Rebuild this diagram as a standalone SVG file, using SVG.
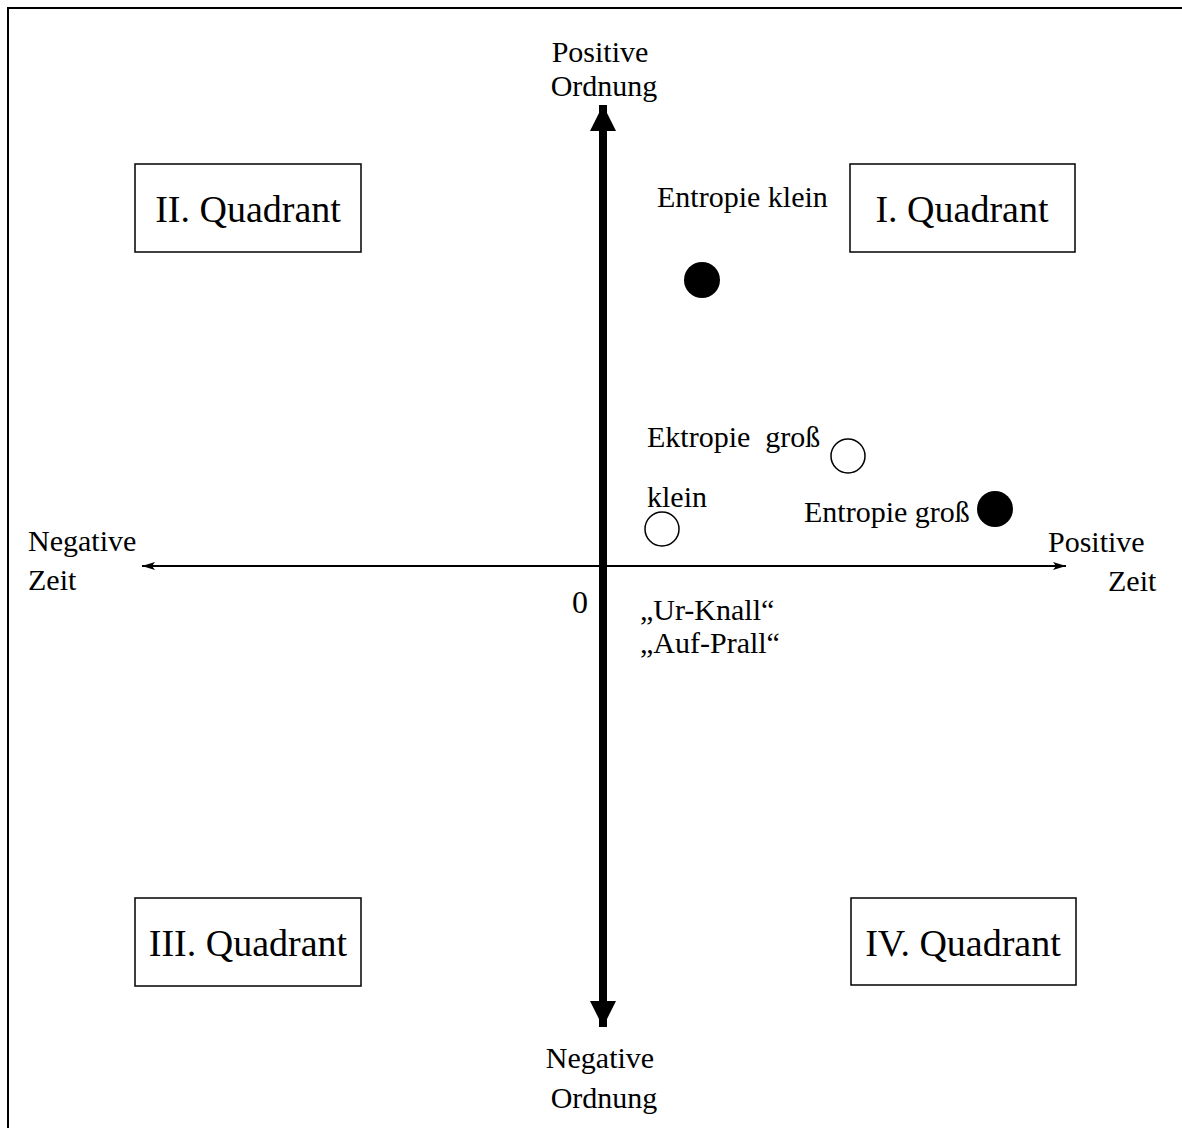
<svg xmlns="http://www.w3.org/2000/svg" width="1182" height="1128" viewBox="0 0 1182 1128">
<style>
text{font-family:"Liberation Serif","Times New Roman",serif;fill:#000}
.lbl{font-size:30px}
.q{font-size:38px;text-anchor:middle}
.box{fill:#fff;stroke:#000;stroke-width:1.5}
.dot{fill:#000}
.ring{fill:#fff;stroke:#000;stroke-width:1.5}
</style>
<defs>
<marker id="bigHead" markerUnits="userSpaceOnUse" markerWidth="28" markerHeight="26" refX="26" refY="13" orient="auto">
<path d="M0,0 L26,13 L0,26 Z" fill="#000"/>
</marker>
<marker id="smallHead" markerUnits="userSpaceOnUse" markerWidth="14" markerHeight="10" refX="13" refY="5" orient="auto">
<path d="M0,1 L13,5 L0,9 L3,5 Z" fill="#000"/>
</marker>
</defs>
<rect width="1182" height="1128" fill="#fff"/>
<g id="frame">
<path d="M8,1128 L8,8 L1182,8" fill="none" stroke="#000" stroke-width="2"/>
</g>
<g id="connectors">
<line x1="603" y1="565" x2="603" y2="105" stroke="#000" stroke-width="8" marker-end="url(#bigHead)"/>
<line x1="603" y1="565" x2="603" y2="1027" stroke="#000" stroke-width="8" marker-end="url(#bigHead)"/>
<line x1="603" y1="566" x2="142" y2="566" stroke="#000" stroke-width="2" marker-end="url(#smallHead)"/>
<line x1="603" y1="566" x2="1066" y2="566" stroke="#000" stroke-width="2" marker-end="url(#smallHead)"/>
</g>
<g id="q2"><rect class="box" x="135" y="164" width="226" height="88"/><text class="q" x="248" y="222">II. Quadrant</text></g>
<g id="q1"><rect class="box" x="850" y="164" width="225" height="88"/><text class="q" x="962" y="222">I. Quadrant</text></g>
<g id="q3"><rect class="box" x="135" y="898" width="226" height="88"/><text class="q" x="248" y="956">III. Quadrant</text></g>
<g id="q4"><rect class="box" x="851" y="898" width="225" height="87"/><text class="q" x="963" y="956">IV. Quadrant</text></g>
<g id="axis-top"><text class="lbl" x="600" y="62" text-anchor="middle">Positive</text><text class="lbl" x="604" y="96" text-anchor="middle">Ordnung</text></g>
<g id="axis-bottom"><text class="lbl" x="600" y="1068" text-anchor="middle">Negative</text><text class="lbl" x="604" y="1108" text-anchor="middle">Ordnung</text></g>
<g id="axis-left"><text class="lbl" x="28" y="551">Negative</text><text class="lbl" x="28" y="590">Zeit</text></g>
<g id="axis-right"><text class="lbl" x="1048" y="552">Positive</text><text class="lbl" x="1108" y="591">Zeit</text></g>
<g id="origin"><text x="572" y="613" style="font-size:32px">0</text><text class="lbl" x="640" y="620">„Ur-Knall“</text><text class="lbl" x="640" y="653">„Auf-Prall“</text></g>
<g id="p-entropie-klein"><text class="lbl" x="657" y="207">Entropie klein</text><circle class="dot" cx="702" cy="280" r="18"/></g>
<g id="p-ektropie-gross"><text class="lbl" x="647" y="447" xml:space="preserve">Ektropie  groß</text><circle class="ring" cx="848" cy="456" r="17"/></g>
<g id="p-klein"><text class="lbl" x="647" y="507">klein</text><circle class="ring" cx="662" cy="529" r="17"/></g>
<g id="p-entropie-gross"><text class="lbl" x="804" y="522">Entropie groß</text><circle class="dot" cx="995" cy="509" r="18"/></g>
</svg>
